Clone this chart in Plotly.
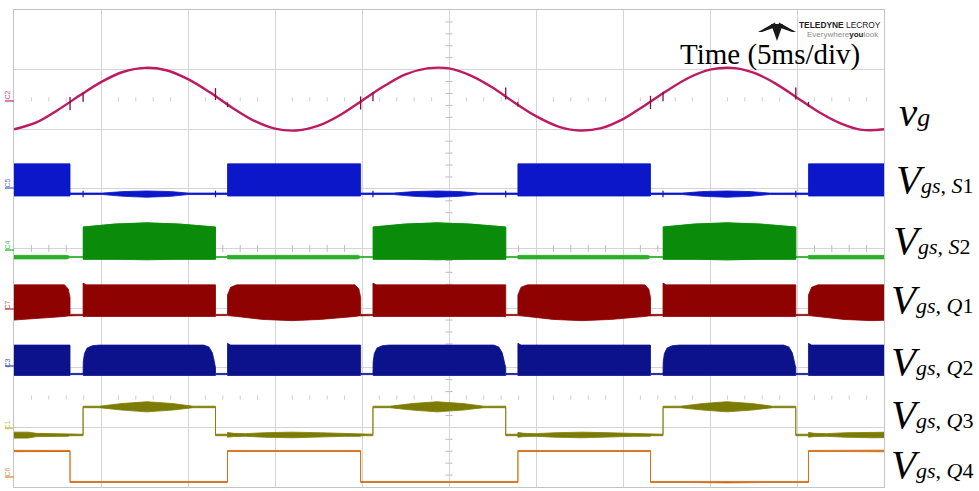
import plotly.graph_objects as go

# ---------------- data (time in ms, 5 ms/div; vertical in screen divisions, 8 div) ----------
vg_t = [0, 1.25, 2.5, 3.75, 5, 6.25, 7.5, 8.75, 10, 11.25, 12.5, 13.75, 15, 16.25, 17.5, 18.75,
        20, 21.25, 22.5, 23.75, 25, 26.25, 27.5, 28.75, 30, 31.25, 32.5, 33.75, 35, 36.25, 37.5,
        38.75, 40, 41.25, 42.5, 43.75, 45, 46.25, 47.5, 48.75, 50]
vg_y = [6.00, 6.11, 6.32, 6.56, 6.79, 6.96, 7.03, 6.99, 6.84, 6.62, 6.37, 6.15, 6.01, 5.98, 6.06,
        6.24, 6.48, 6.72, 6.92, 7.02, 7.02, 6.90, 6.70, 6.45, 6.22, 6.05, 5.98, 6.02, 6.17, 6.40,
        6.64, 6.86, 7.00, 7.03, 6.95, 6.77, 6.53, 6.29, 6.10, 5.99, 6.00]

spike_t = [3.22, 3.97, 11.58, 12.27, 19.92, 20.63, 28.26, 28.96, 36.58, 37.30, 44.93, 45.66]
spike_lo = [6.32, 6.46, 6.49, 6.37, 6.33, 6.47, 6.50, 6.38, 6.34, 6.47, 6.50, 6.38]
spike_hi = [6.54, 6.62, 6.69, 6.45, 6.55, 6.62, 6.70, 6.46, 6.56, 6.63, 6.70, 6.46]

s1_t = [0, 3.22, 3.22, 5.1, 6.3, 7.64, 9.0, 10.0, 12.27, 12.27, 19.92, 19.92, 21.8, 23.0, 24.31,
        25.6, 26.7, 28.96, 28.96, 36.58, 36.58, 38.4, 39.6, 40.97, 42.3, 43.4, 45.66, 45.66, 50]
s1_hi = [5.42, 5.42, 4.93, 4.93, 4.955, 4.965, 4.955, 4.93, 4.93, 5.42, 5.42, 4.93, 4.93, 4.955,
         4.965, 4.955, 4.93, 4.93, 5.42, 5.42, 4.93, 4.93, 4.955, 4.965, 4.955, 4.93, 4.93, 5.42, 5.42]
s1_lo = [4.88, 4.88, 4.905, 4.905, 4.875, 4.86, 4.875, 4.905, 4.905, 4.88, 4.88, 4.905, 4.905, 4.875,
         4.86, 4.875, 4.905, 4.905, 4.88, 4.88, 4.905, 4.905, 4.875, 4.86, 4.875, 4.905, 4.905, 4.88, 4.88]
s1_glitch_t = [3.97, 11.58, 20.63, 28.26, 37.30, 44.93]
s1_glitch_lo = [4.86, 4.86, 4.86, 4.86, 4.86, 4.86]
s1_glitch_hi = [4.97, 4.97, 4.97, 4.97, 4.97, 4.97]

s2_t = [0, 3.05, 3.22, 3.97, 3.97, 5.8, 7.64, 9.5, 11.58, 11.58, 12.27, 12.27, 19.75, 19.92, 20.63,
        20.63, 22.47, 24.31, 26.2, 28.26, 28.26, 28.96, 28.96, 36.4, 36.58, 37.30, 37.30, 39.1,
        40.97, 42.9, 44.93, 44.93, 45.66, 45.66, 50]
s2_hi = [3.885, 3.885, 3.865, 3.865, 4.36, 4.41, 4.43, 4.41, 4.36, 3.865, 3.865, 3.885, 3.885,
         3.865, 3.865, 4.36, 4.41, 4.43, 4.41, 4.36, 3.865, 3.865, 3.885, 3.885, 3.865, 3.865,
         4.36, 4.41, 4.43, 4.41, 4.36, 3.865, 3.865, 3.885, 3.885]
s2_lo = [3.825, 3.825, 3.85, 3.85, 3.82, 3.82, 3.81, 3.82, 3.82, 3.85, 3.85, 3.825, 3.825, 3.85,
         3.85, 3.82, 3.82, 3.81, 3.82, 3.82, 3.85, 3.85, 3.825, 3.825, 3.85, 3.85, 3.82, 3.82,
         3.81, 3.82, 3.82, 3.85, 3.85, 3.825, 3.825]

q1_t = [0, 1.5, 2.9, 3.12, 3.22, 3.22, 3.97, 3.97, 4.15, 11.58, 11.58, 12.27, 12.27, 12.45, 12.8,
        14.3, 15.97, 17.6, 19.6, 19.82, 19.92, 19.92, 20.63, 20.63, 20.81, 28.26, 28.26, 28.96,
        28.96, 29.14, 29.5, 31.0, 32.64, 34.3, 36.25, 36.48, 36.58, 36.58, 37.30, 37.30, 37.48,
        44.93, 44.93, 45.66, 45.66, 45.84, 46.2, 47.7, 49.3, 50]
q1_hi = [3.39, 3.39, 3.39, 3.32, 3.18, 2.895, 2.895, 3.42, 3.39, 3.39, 2.895, 2.895, 3.22, 3.35,
         3.39, 3.39, 3.39, 3.39, 3.39, 3.32, 3.18, 2.895, 2.895, 3.42, 3.39, 3.39, 2.895, 2.895,
         3.22, 3.35, 3.39, 3.39, 3.39, 3.39, 3.39, 3.32, 3.18, 2.895, 2.895, 3.42, 3.39, 3.39,
         2.895, 2.895, 3.22, 3.35, 3.39, 3.39, 3.39, 3.39]
q1_lo = [2.80, 2.83, 2.86, 2.87, 2.87, 2.875, 2.875, 2.86, 2.86, 2.86, 2.875, 2.875, 2.87, 2.87,
         2.86, 2.81, 2.79, 2.81, 2.86, 2.87, 2.87, 2.875, 2.875, 2.86, 2.86, 2.86, 2.875, 2.875,
         2.87, 2.87, 2.86, 2.81, 2.79, 2.81, 2.86, 2.87, 2.87, 2.875, 2.875, 2.86, 2.86, 2.86,
         2.875, 2.875, 2.87, 2.87, 2.86, 2.81, 2.79, 2.795]

q2_t = [0, 3.22, 3.22, 3.97, 3.98, 4.05, 4.2, 4.5, 4.9, 10.9, 11.2, 11.4, 11.5, 11.58, 11.58,
        12.27, 12.27, 12.45, 19.92, 19.92, 20.63, 20.64, 20.71, 20.86, 21.16, 21.56, 27.56, 27.86,
        28.06, 28.16, 28.26, 28.26, 28.96, 28.96, 29.14, 36.58, 36.58, 37.30, 37.31, 37.38, 37.53,
        37.83, 38.23, 44.23, 44.53, 44.73, 44.83, 44.93, 44.93, 45.66, 45.66, 45.84, 50]
q2_hi = [2.38, 2.38, 1.905, 1.905, 2.10, 2.24, 2.33, 2.37, 2.38, 2.38, 2.35, 2.25, 2.12, 2.0,
         1.905, 1.905, 2.41, 2.38, 2.38, 1.905, 1.905, 2.10, 2.24, 2.33, 2.37, 2.38, 2.38, 2.35,
         2.25, 2.12, 2.0, 1.905, 1.905, 2.41, 2.38, 2.38, 1.905, 1.905, 2.10, 2.24, 2.33, 2.37,
         2.38, 2.38, 2.35, 2.25, 2.12, 2.0, 1.905, 1.905, 2.41, 2.38, 2.38]
q2_lo = [1.87, 1.87, 1.885, 1.885, 1.87, 1.87, 1.87, 1.87, 1.87, 1.87, 1.87, 1.87, 1.87, 1.87,
         1.885, 1.885, 1.87, 1.87, 1.87, 1.885, 1.885, 1.87, 1.87, 1.87, 1.87, 1.87, 1.87, 1.87,
         1.87, 1.87, 1.87, 1.885, 1.885, 1.87, 1.87, 1.87, 1.885, 1.885, 1.87, 1.87, 1.87, 1.87,
         1.87, 1.87, 1.87, 1.87, 1.87, 1.87, 1.885, 1.885, 1.87, 1.87, 1.87]

q3_t = [0, 0.8, 1.3, 3.1, 3.22, 3.97, 3.97, 4.9, 6.2, 7.64, 9.1, 10.3, 11.58, 11.58, 12.27, 12.27,
        12.6, 13.3, 14.4, 15.97, 17.6, 19.0, 19.92, 19.92, 20.63, 20.63, 21.6, 22.9, 24.31, 25.8,
        27.0, 28.26, 28.26, 28.96, 28.96, 29.3, 30.0, 31.1, 32.64, 34.2, 35.6, 36.58, 36.58, 37.30,
        37.30, 38.3, 39.6, 40.97, 42.4, 43.6, 44.93, 44.93, 45.66, 45.66, 46.0, 46.7, 47.8, 49.3, 50]
q3_hi = [0.92, 0.92, 0.90, 0.895, 0.885, 0.885, 1.355, 1.355, 1.40, 1.43, 1.40, 1.355, 1.355,
         0.885, 0.885, 0.915, 0.90, 0.895, 0.91, 0.92, 0.91, 0.895, 0.895, 0.885, 0.885, 1.355,
         1.355, 1.40, 1.43, 1.40, 1.355, 1.355, 0.885, 0.885, 0.915, 0.90, 0.895, 0.91, 0.92,
         0.91, 0.895, 0.895, 0.885, 0.885, 1.355, 1.355, 1.40, 1.43, 1.40, 1.355, 1.355, 0.885,
         0.885, 0.915, 0.90, 0.895, 0.91, 0.92, 0.918]
q3_lo = [0.82, 0.82, 0.845, 0.85, 0.86, 0.86, 1.33, 1.33, 1.29, 1.26, 1.29, 1.33, 1.33, 0.86,
         0.86, 0.835, 0.845, 0.85, 0.835, 0.825, 0.835, 0.85, 0.85, 0.86, 0.86, 1.33, 1.33, 1.29,
         1.26, 1.29, 1.33, 1.33, 0.86, 0.86, 0.835, 0.845, 0.85, 0.835, 0.825, 0.835, 0.85, 0.85,
         0.86, 0.86, 1.33, 1.33, 1.29, 1.26, 1.29, 1.33, 1.33, 0.86, 0.86, 0.835, 0.845, 0.85,
         0.835, 0.825, 0.828]

q4_t = [0, 3.22, 3.22, 5.5, 7.64, 9.8, 12.27, 12.27, 14.3, 15.97, 17.6, 19.92, 19.92, 22.2, 24.31,
        26.5, 28.96, 28.96, 31.0, 32.64, 34.3, 36.58, 36.58, 38.9, 40.97, 43.1, 45.66, 45.66,
        47.7, 49.3, 50]
q4_hi = [0.615, 0.613, 0.093, 0.093, 0.10, 0.093, 0.093, 0.613, 0.613, 0.62, 0.613, 0.613, 0.093,
         0.093, 0.10, 0.093, 0.093, 0.613, 0.613, 0.62, 0.613, 0.613, 0.093, 0.093, 0.10, 0.093,
         0.093, 0.613, 0.613, 0.62, 0.618]
q4_lo = [0.592, 0.595, 0.075, 0.075, 0.068, 0.075, 0.075, 0.595, 0.595, 0.588, 0.595, 0.595, 0.075,
         0.075, 0.068, 0.075, 0.075, 0.595, 0.595, 0.588, 0.595, 0.595, 0.075, 0.075, 0.068, 0.075,
         0.075, 0.595, 0.595, 0.588, 0.59]

channel_tags = ["C2", "C5", "C4", "C7", "C3", "C1", "C6"]
right_labels = ["v_g", "V_gs,S1", "V_gs,S2", "V_gs,Q1", "V_gs,Q2", "V_gs,Q3", "V_gs,Q4"]

# ---------------- colours ----------------
C_VG = "#BE1A62"
C_S1 = "#0B17C9"
C_S2 = "#0A8C0A"
C_S2_OFF = "#2BAE2B"
C_Q1 = "#8E0202"
C_Q2 = "#0B128C"
C_Q3 = "#7C7C05"
C_Q4 = "#CF6A14"
GRID = "#D4D4D4"

# ---------------- layout geometry (pixels) ----------------
W, H = 979, 491
L, R, T, B = 14, 884, 10, 487


def px(x):
    return (x - L) / (R - L)


def py(y):
    return (B - y) / (B - T)


fig = go.Figure()

# centre-line ticks and dotted rows (scope graticule decoration)
tick_x = [i for i in range(1, 50) if i % 5 != 0]
fig.add_trace(go.Scatter(x=tick_x, y=[4] * len(tick_x), mode="markers",
                         marker=dict(symbol="line-ns", size=5, line=dict(color="#BDBDBD", width=1)),
                         hoverinfo="skip", showlegend=False))
for yrow in (6.5, 1.5):
    fig.add_trace(go.Scatter(x=tick_x, y=[yrow] * len(tick_x), mode="markers",
                             marker=dict(symbol="line-ns", size=3, line=dict(color="#CFCFCF", width=1)),
                             hoverinfo="skip", showlegend=False))
tick_y = [i / 5 for i in range(1, 40) if i % 5 != 0]
fig.add_trace(go.Scatter(x=[25] * len(tick_y), y=tick_y, mode="markers",
                         marker=dict(symbol="line-ew", size=5, line=dict(color="#BDBDBD", width=1)),
                         hoverinfo="skip", showlegend=False))


def band(t, hi, lo, color, lw=0.8):
    fig.add_trace(go.Scatter(x=list(t) + list(t)[::-1], y=list(hi) + list(lo)[::-1],
                             mode="lines", fill="toself", fillcolor=color,
                             line=dict(color=color, width=lw), hoverinfo="skip",
                             showlegend=False))


def on_runs(t, hi, lo, threshold):
    """split a channel's knots into the runs where it is switching (hi above threshold)"""
    runs, cur = [], []
    for a, b, c in zip(t, hi, lo):
        if b > threshold:
            cur.append((a, b, c))
        elif cur:
            runs.append(cur)
            cur = []
    if cur:
        runs.append(cur)
    return runs


def glitches(t, lo, hi, color, width=1.2):
    xs, ys = [], []
    for a, b, c in zip(t, lo, hi):
        xs += [a, a, None]
        ys += [b, c, None]
    fig.add_trace(go.Scatter(x=xs, y=ys, mode="lines", line=dict(color=color, width=width),
                             hoverinfo="skip", showlegend=False))


band(q4_t, q4_hi, q4_lo, C_Q4)
band(q3_t, q3_hi, q3_lo, C_Q3)
band(q2_t, q2_hi, q2_lo, C_Q2)
band(q1_t, q1_hi, q1_lo, C_Q1)
# S2: lighter off-state line, dark green switching bursts on top
band(s2_t, s2_hi, s2_lo, C_S2_OFF)
for run in on_runs(s2_t, s2_hi, s2_lo, 4.0):
    band([r[0] for r in run], [r[1] for r in run], [r[2] for r in run], C_S2)
band(s1_t, s1_hi, s1_lo, C_S1)
glitches(s1_glitch_t, s1_glitch_lo, s1_glitch_hi, C_S1)

fig.add_trace(go.Scatter(x=vg_t, y=vg_y, mode="lines", line=dict(color=C_VG, width=2.4, shape="spline"),
                         hoverinfo="skip", showlegend=False))
glitches(spike_t, spike_lo, spike_hi, "#7A1040", 1.3)

# trigger-level arrow at right of v_g
fig.add_trace(go.Scatter(x=[50.17], y=[6.52], mode="markers", cliponaxis=False,
                         marker=dict(symbol="triangle-left", size=6, color=C_VG),
                         hoverinfo="skip", showlegend=False))

fig.update_xaxes(range=[0, 50], dtick=5, showgrid=True, gridcolor=GRID, gridwidth=1,
                 zeroline=False, showticklabels=False, ticks="", showline=True,
                 linecolor="#C4C4C4", linewidth=1, mirror=True, fixedrange=True)
fig.update_yaxes(range=[0, 8], dtick=1, showgrid=True, gridcolor=GRID, gridwidth=1,
                 zeroline=False, showticklabels=False, ticks="", showline=True,
                 linecolor="#C4C4C4", linewidth=1, mirror=True, fixedrange=True)

annotations = []
serif = "Liberation Serif, Times New Roman, serif"

# right-hand labels
lab_html = [
    "<i>v</i><span style='font-size:26px'><i>g</i></span>",
    "<i>V</i><span style='font-size:22px'><i>gs</i>, <i>S</i>1</span>",
    "<i>V</i><span style='font-size:22px'><i>gs</i>, <i>S</i>2</span>",
    "<i>V</i><span style='font-size:22px'><i>gs</i>, <i>Q</i>1</span>",
    "<i>V</i><span style='font-size:22px'><i>gs</i>, <i>Q</i>2</span>",
    "<i>V</i><span style='font-size:22px'><i>gs</i>, <i>Q</i>3</span>",
    "<i>V</i><span style='font-size:22px'><i>gs</i>, <i>Q</i>4</span>",
]
lab_x = [897, 894, 891, 889, 889, 889, 889]
lab_yc = [112, 179, 240, 299, 361, 414, 464]
for name, h, xx, yy in zip(right_labels, lab_html, lab_x, lab_yc):
    annotations.append(dict(text=h, x=px(xx), y=py(yy), xref="paper", yref="paper",
                            xanchor="left", yanchor="middle", showarrow=False,
                            font=dict(family=serif, size=41, color="black")))

annotations.append(dict(text="Time (5ms/div)", x=px(770), y=py(54), xref="paper", yref="paper",
                        xanchor="center", yanchor="middle", showarrow=False,
                        font=dict(family=serif, size=29, color="black")))

# logo text
annotations.append(dict(text="<b>TELEDYNE</b> LECROY", x=px(883), y=py(24.5), xref="paper", yref="paper",
                        xanchor="right", yanchor="middle", showarrow=False,
                        font=dict(family="Liberation Sans, Arial", size=8.4, color="#222222")))
annotations.append(dict(text="<span style='color:#8a8a8a'>Everywhere</span><b>you</b><span style='color:#8a8a8a'>look</span>",
                        x=px(881), y=py(34.5), xref="paper", yref="paper",
                        xanchor="right", yanchor="middle", showarrow=False,
                        font=dict(family="Liberation Sans, Arial", size=8, color="#222222")))

# channel tags on the left
tag_colors = ["#D0508A", "#6B78D6", "#49C449", "#C25555", "#5563B5", "#C4C454", "#E39A55"]
tag_y = [95, 183, 245, 305, 363, 425, 472]
mark_y = [101, 188, 250, 309, 366, 428, 477]
shapes = []
for tg, col, ty, my in zip(channel_tags, tag_colors, tag_y, mark_y):
    annotations.append(dict(text=tg, x=px(6.5), y=py(ty), xref="paper", yref="paper",
                            xanchor="center", yanchor="middle", showarrow=False, textangle=-90,
                            font=dict(family="Liberation Sans, Arial", size=7, color=col)))
    shapes.append(dict(type="line", xref="paper", yref="paper", x0=px(5), x1=px(14),
                       y0=py(my), y1=py(my), line=dict(color=col, width=1.5)))


# Teledyne emblem
def pth(points):
    s = "M " + " L ".join(f"{px(a):.5f},{py(b):.5f}" for a, b in points) + " Z"
    return s


emblem = [
    [(758, 32), (775, 22.5), (776, 27), (762, 32)],
    [(796, 32), (779, 22.5), (778, 27), (792, 32)],
    [(771, 24), (783, 24), (777, 41)],
]
for pts in emblem:
    shapes.append(dict(type="path", xref="paper", yref="paper", path=pth(pts),
                       fillcolor="#1a1a1a", line=dict(width=0)))

fig.update_layout(width=W, height=H, margin=dict(l=L, r=W - R, t=T, b=H - B),
                  paper_bgcolor="white", plot_bgcolor="white", showlegend=False,
                  annotations=annotations, shapes=shapes)

fig.write_html("out.html")
